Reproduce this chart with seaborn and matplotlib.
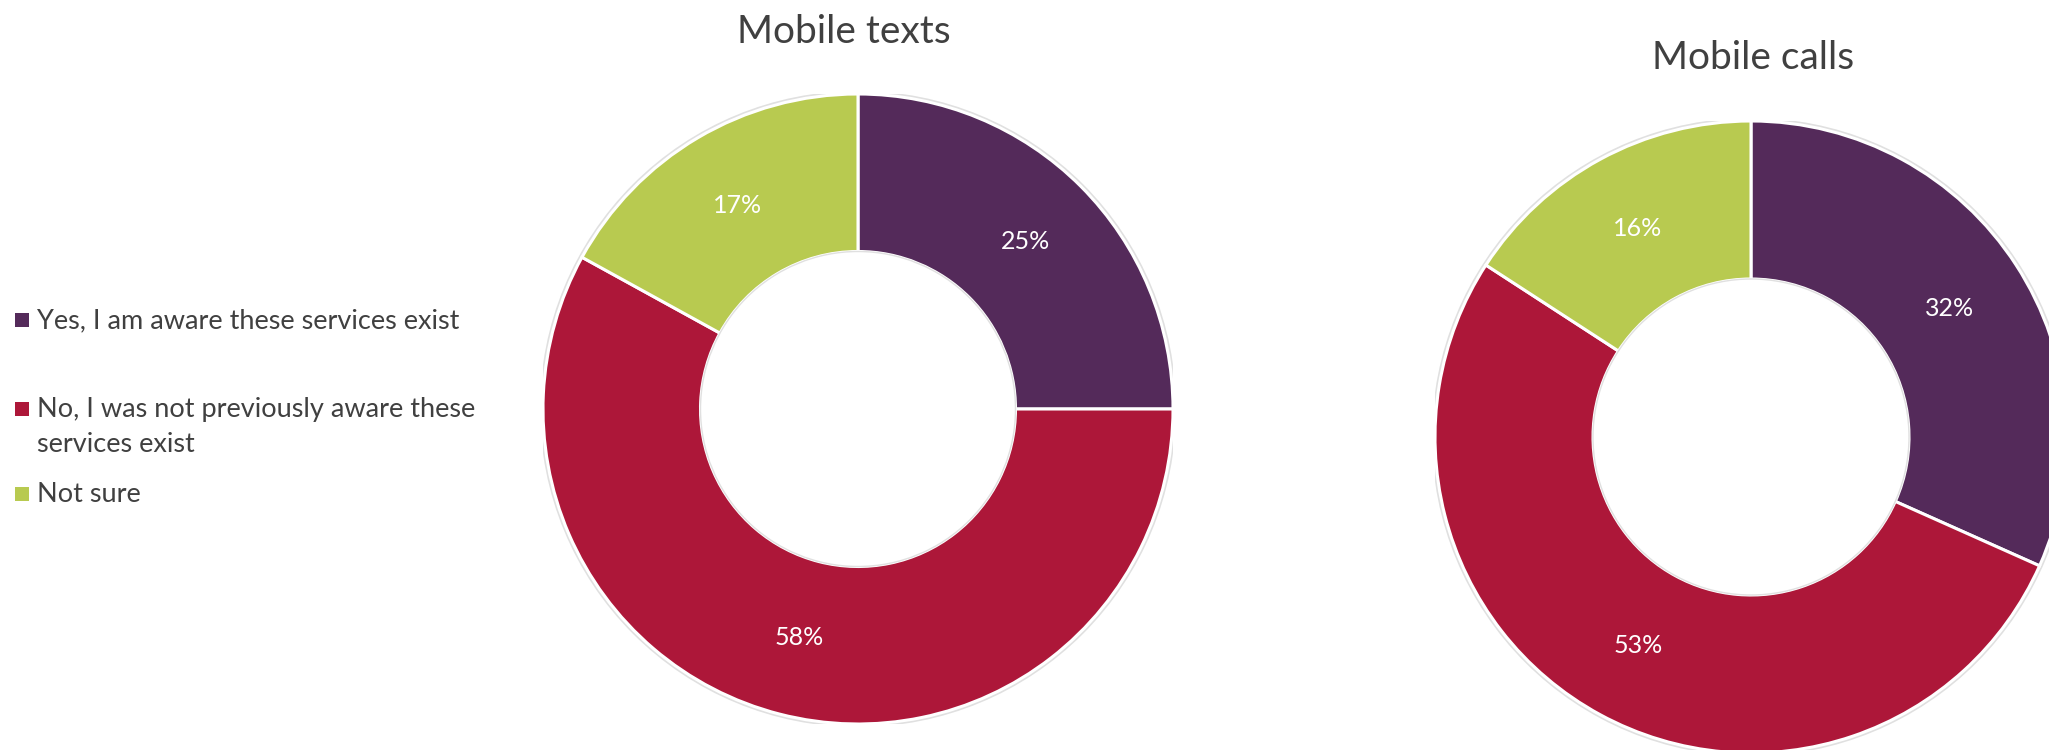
import matplotlib
matplotlib.use("Agg")
import matplotlib.pyplot as plt
from matplotlib.patches import Circle, Rectangle
import numpy as np
import seaborn as sns

# Survey responses: awareness of text / call relay services
categories = [
    "Yes, I am aware these services exist",
    "No, I was not previously aware these\nservices exist",
    "Not sure",
]
texts_values = [25, 58, 17]
calls_values = [32, 53, 16]
chart_titles = ["Mobile texts", "Mobile calls"]
palette = ["#542A5A", "#AD1739", "#B8CA50"]

sns.set_theme(style="white")
plt.rcParams["font.family"] = ["Lato", "DejaVu Sans"]

W, H = 2049, 750
fig = plt.figure(figsize=(W / 100, H / 100), dpi=100)
fig.patch.set_facecolor("white")

text_color = "#404040"


def px_axes(cx, cy, r):
    """Square axes centred on pixel (cx, cy) with pixel radius r."""
    return fig.add_axes([(cx - r) / W, (H - cy - r) / H, 2 * r / W, 2 * r / H])


def donut(ax, values, title, title_xy):
    # soft outline behind the ring
    ax.add_patch(Circle((0, 0), 1.01, facecolor="#e0e0e0", edgecolor="none", zorder=0))
    wedges, _ = ax.pie(
        values,
        colors=palette,
        startangle=90,
        counterclock=False,
        radius=1.0,
        wedgeprops=dict(width=0.5, edgecolor="white", linewidth=2.2),
    )
    ax.add_patch(Circle((0, 0), 0.5, facecolor="white", edgecolor="#e0e0e0",
                        linewidth=1.0, zorder=3))
    for w, v in zip(wedges, values):
        mid = np.deg2rad((w.theta1 + w.theta2) / 2)
        ax.text(0.75 * np.cos(mid), 0.75 * np.sin(mid), f"{v}%",
                ha="center", va="center", color="white", fontsize=18)
    ax.set_xlim(-1, 1)
    ax.set_ylim(-1, 1)
    ax.set_aspect("equal")
    ax.axis("off")
    fig.text(title_xy[0] / W, 1 - title_xy[1] / H, title, ha="center",
             va="baseline", fontsize=28, color=text_color)


ax1 = px_axes(858, 409, 315)
donut(ax1, texts_values, chart_titles[0], (844, 43))

ax2 = px_axes(1751, 437, 316)
donut(ax2, calls_values, chart_titles[1], (1753, 69))

# Legend drawn at figure level; wrapped entries continue on following lines
legend_baselines = [328, 417, 502]
line_step = 35
for label, color, base in zip(categories, palette, legend_baselines):
    fig.patches.append(Rectangle((15 / W, 1 - (base - 1) / H), 14 / W, 14 / H,
                                 transform=fig.transFigure, facecolor=color,
                                 edgecolor="none"))
    for i, line in enumerate(label.split("\n")):
        fig.text(37 / W, 1 - (base + i * line_step) / H, line, ha="left",
                 va="baseline", fontsize=19.5, color=text_color)

fig.savefig("out.png", dpi=100, facecolor="white")
